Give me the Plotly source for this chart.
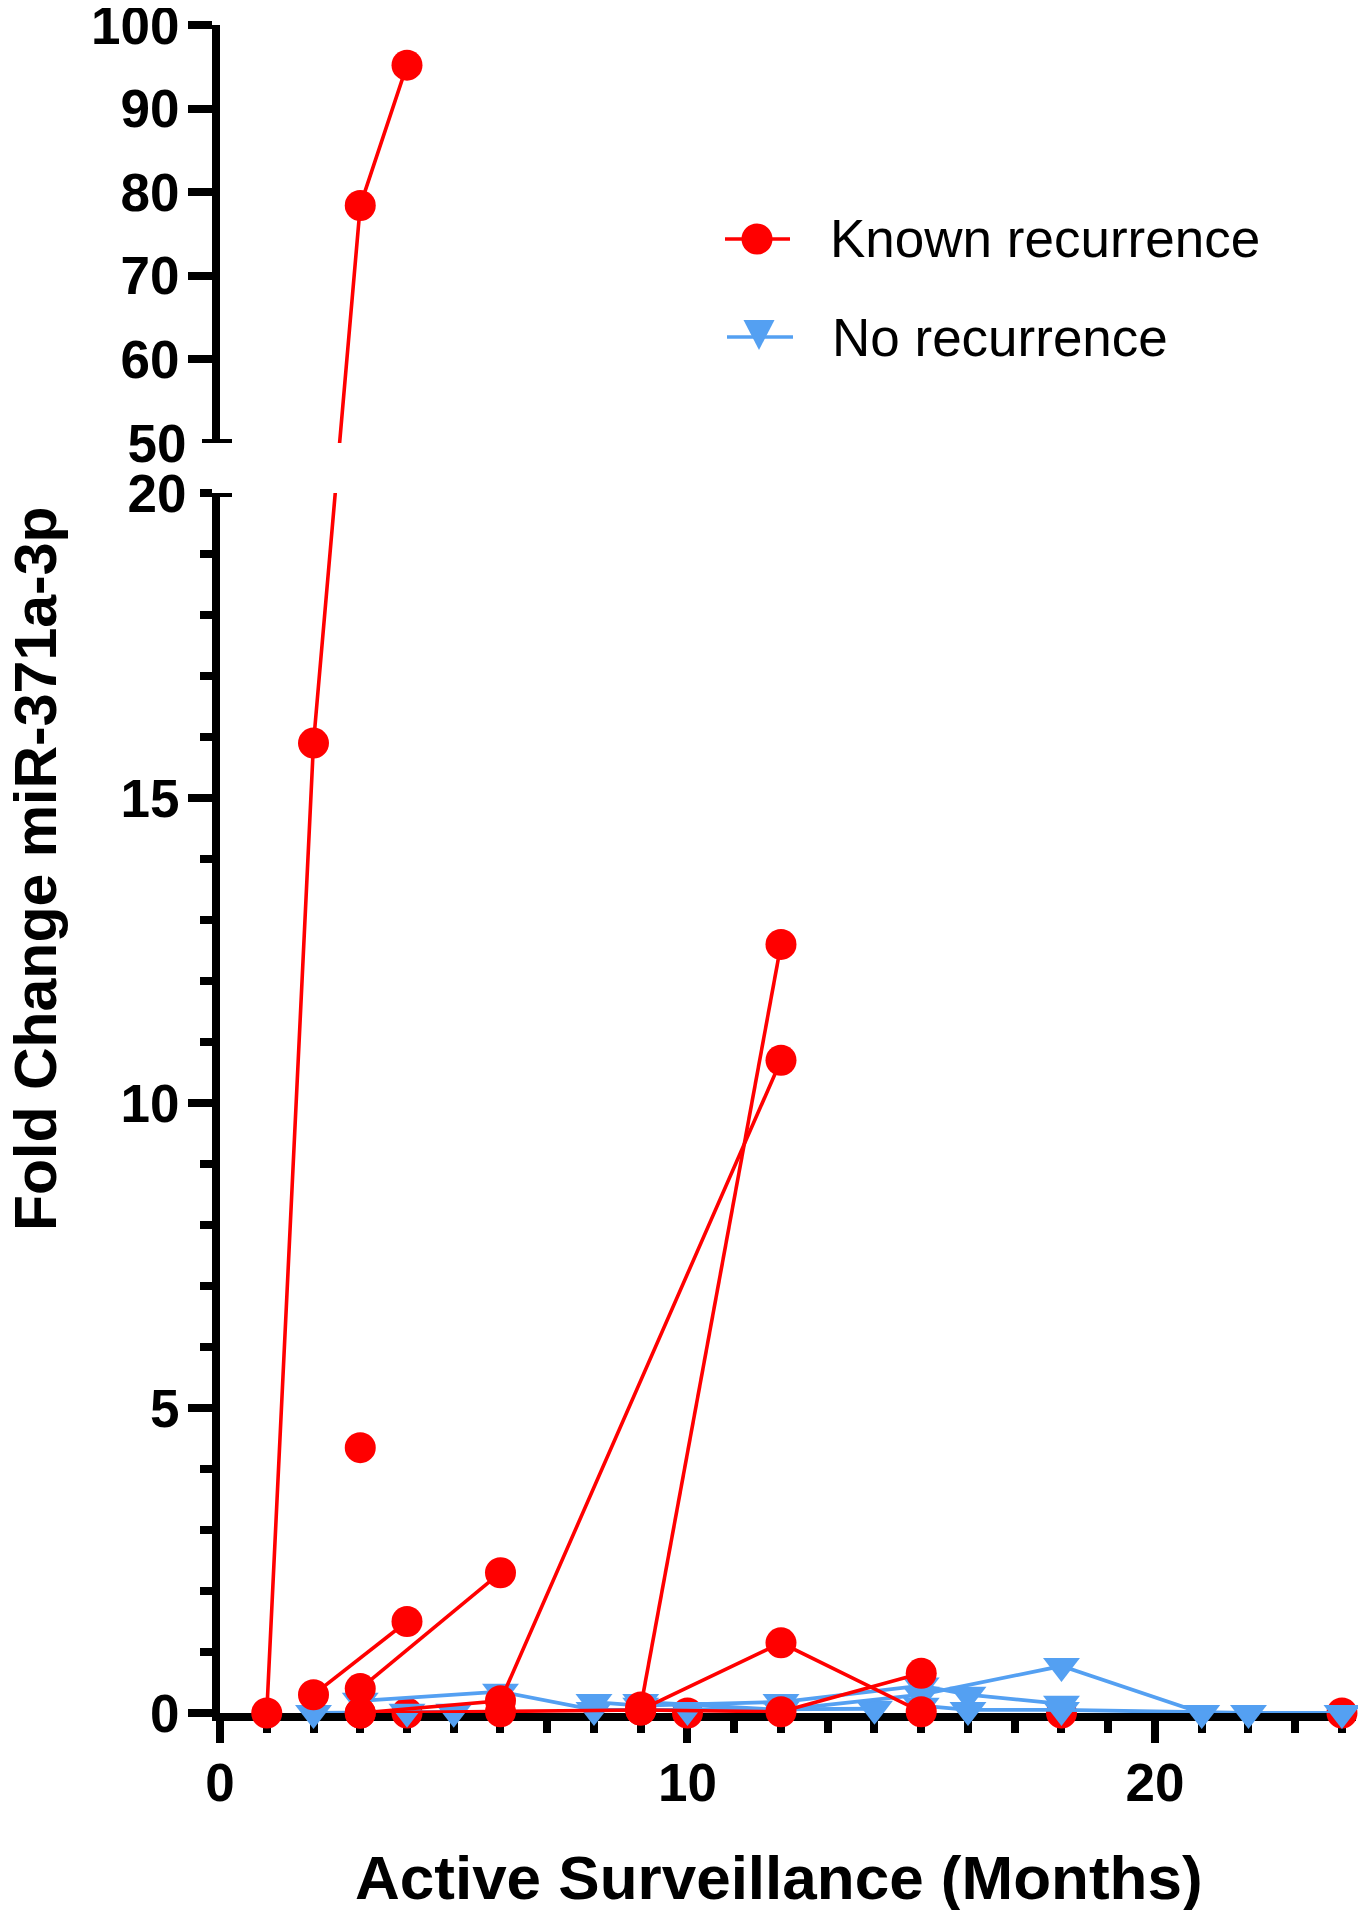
import plotly.graph_objects as go

# ---------------- data (months, fold change miR-371a-3p) ----------------
# Known recurrence patients
kr1_x = [1, 2, 3, 4];          kr1_y = [0.0, 15.9, 78.4, 95.2]
kr2_x = [2, 4];                kr2_y = [0.3, 1.5]
kr3_x = [3, 6];                kr3_y = [0.4, 2.3]
kr4_x = [3];                   kr4_y = [4.35]
kr5_x = [3, 6, 12];            kr5_y = [0.0, 0.2, 10.7]
kr6_x = [9, 12];               kr6_y = [0.1, 12.6]
kr7_x = [9, 12, 15];           kr7_y = [0.05, 1.15, 0.02]
kr8_x = [3, 6, 9, 12, 15];     kr8_y = [0.0, 0.02, 0.05, 0.02, 0.65]
kr_low_x = [4, 10, 18, 24];    kr_low_y = [0.0, 0.0, 0.0, 0.0]   # drawn under the blue series

# No recurrence patients
nr1_x = [2, 4, 5];                 nr1_y = [0.0, 0.02, 0.02]
nr2_x = [3, 6, 8, 10, 14];         nr2_y = [0.2, 0.35, 0.05, 0.05, 0.07]
nr3_x = [9, 12, 15, 18, 21];       nr3_y = [0.18, 0.05, 0.3, 0.77, 0.0]
nr4_x = [8, 9, 12, 15, 16, 18];    nr4_y = [0.18, 0.12, 0.18, 0.45, 0.3, 0.15]
nr5_x = [15, 16, 18, 22, 24];      nr5_y = [0.12, 0.05, 0.05, 0.0, 0.0]

known = [(kr1_x, kr1_y), (kr2_x, kr2_y), (kr3_x, kr3_y), (kr4_x, kr4_y),
         (kr5_x, kr5_y), (kr6_x, kr6_y), (kr7_x, kr7_y), (kr8_x, kr8_y)]
norec = [(nr1_x, nr1_y), (nr2_x, nr2_y), (nr3_x, nr3_y), (nr4_x, nr4_y), (nr5_x, nr5_y)]

x_ticks = [0, 10, 20]
y_low_ticks = [0, 5, 10, 15]
y_high_ticks = [60, 70, 80, 90, 100]
legend_labels = ["Known recurrence", "No recurrence"]

# ---------------- styling / geometry ----------------
RED = "#FF0000"
BLUE = "rgb(84,160,242)"
FONT = "Liberation Sans, Arial, sans-serif"
OFF = 8                                   # page body margin
W, H = 1358, 1902
ML, MR, MT, MB = 212, 10, 17, 197
PW, PH = W - ML - MR, H - MT - MB
X_RNG = (0, 24.3)
LOW_RNG, HIGH_RNG = (0, 20), (50, 100)


def px2paper_x(px):          # screen pixel -> paper
    return (px - OFF - ML) / PW


def px2paper_y(py):
    return (H - MB - (py - OFF)) / PH


d1 = px2paper_y(493)         # top of the low segment
d2 = px2paper_y(443)         # bottom of the high segment


def to_low(v):
    """express a value in low-segment axis units (for the line crossing the break)"""
    if v <= LOW_RNG[1]:
        return v
    paper = d2 + (v - HIGH_RNG[0]) / (HIGH_RNG[1] - HIGH_RNG[0]) * (1 - d2)
    return paper / d1 * LOW_RNG[1]


def to_high(v):
    if v >= HIGH_RNG[0]:
        return v
    paper = v / LOW_RNG[1] * d1
    return HIGH_RNG[0] + (paper - d2) / (1 - d2) * (HIGH_RNG[1] - HIGH_RNG[0])


fig = go.Figure()

CIRCLE = dict(symbol="circle", size=31, color=RED, line=dict(width=0))
TRI = dict(symbol="triangle-down", size=32, color=BLUE, line=dict(width=0))


def add_series(xs, ys, color, marker, lw):
    if max(ys) <= LOW_RNG[1]:
        fig.add_trace(go.Scatter(x=xs, y=ys, mode="lines+markers" if len(xs) > 1 else "markers",
                                 line=dict(color=color, width=lw), marker=marker,
                                 cliponaxis=False, showlegend=False, xaxis="x", yaxis="y"))
        return
    # low segment
    fig.add_trace(go.Scatter(x=xs, y=[to_low(v) for v in ys], mode="lines",
                             line=dict(color=color, width=lw), showlegend=False,
                             xaxis="x", yaxis="y"))
    lx = [a for a, b in zip(xs, ys) if b <= LOW_RNG[1]]
    ly = [b for b in ys if b <= LOW_RNG[1]]
    fig.add_trace(go.Scatter(x=lx, y=ly, mode="markers", marker=marker, cliponaxis=False,
                             showlegend=False, xaxis="x", yaxis="y"))
    # high segment
    fig.add_trace(go.Scatter(x=xs, y=[to_high(v) for v in ys], mode="lines",
                             line=dict(color=color, width=lw), showlegend=False,
                             xaxis="x2", yaxis="y2"))
    hx = [a for a, b in zip(xs, ys) if b >= HIGH_RNG[0]]
    hy = [b for b in ys if b >= HIGH_RNG[0]]
    fig.add_trace(go.Scatter(x=hx, y=hy, mode="markers", marker=marker, cliponaxis=False,
                             showlegend=False, xaxis="x2", yaxis="y2"))


fig.add_trace(go.Scatter(x=kr_low_x, y=kr_low_y, mode="markers", marker=CIRCLE,
                         cliponaxis=False, showlegend=False, xaxis="x", yaxis="y"))
for xs, ys in norec:
    add_series(xs, ys, BLUE, TRI, 3.8)
for xs, ys in known:
    add_series(xs, ys, RED, CIRCLE, 3.6)

# empty traces so the label-only overlay axes are rendered
fig.add_trace(go.Scatter(x=[None], y=[None], xaxis="x", yaxis="y3", showlegend=False, hoverinfo="skip"))
fig.add_trace(go.Scatter(x=[None], y=[None], xaxis="x2", yaxis="y4", showlegend=False, hoverinfo="skip"))

tickfont = dict(family=FONT, size=53, color="black", weight="bold")
axis_common = dict(showgrid=False, zeroline=False, showline=True, linewidth=8, linecolor="black",
                   ticks="outside", tickwidth=8, tickcolor="black", tickfont=tickfont,
                   layer="below traces", automargin=False)
label_only = dict(side="left", tickmode="array", ticks="outside", ticklen=24, tickwidth=8,
                  tickcolor="rgba(0,0,0,0)", tickfont=tickfont, showline=False, showgrid=False,
                  zeroline=False, ticklabelstandoff=-2, ticklabeloverflow="allow", automargin=False)

fig.update_layout(
    width=W, height=H, margin=dict(l=ML, r=MR, t=MT, b=MB, autoexpand=False),
    paper_bgcolor="white", plot_bgcolor="white", showlegend=False,
    xaxis=dict(domain=[0, 1], range=list(X_RNG), anchor="y", tickmode="array", tickvals=x_ticks,
               ticklen=22, ticklabelstandoff=-6, ticklabeloverflow="allow",
               minor=dict(tick0=0, dtick=1, ticks="outside", ticklen=12, tickwidth=8,
                          tickcolor="black"),
               **axis_common),
    xaxis2=dict(domain=[0, 1], range=list(X_RNG), anchor="y2", matches="x", visible=False,
                automargin=False),
    yaxis=dict(domain=[0, d1], range=list(LOW_RNG), anchor="x", tickmode="array",
               tickvals=y_low_ticks, ticklen=24, ticklabelstandoff=-2, ticklabeloverflow="allow",
               minor=dict(tick0=0, dtick=1, ticks="outside", ticklen=12, tickwidth=8,
                          tickcolor="black"),
               **axis_common),
    yaxis3=dict(overlaying="y", anchor="x", range=list(LOW_RNG), tickvals=[LOW_RNG[1]], **label_only),
    yaxis2=dict(domain=[d2, 1], range=list(HIGH_RNG), anchor="x2", tickmode="array",
                tickvals=y_high_ticks, ticklen=24, ticklabelstandoff=-2, ticklabeloverflow="allow",
                **axis_common),
    yaxis4=dict(overlaying="y2", anchor="x2", range=list(HIGH_RNG), tickvals=[HIGH_RNG[0]],
                **label_only),
)

# axis-break bars at the segment ends
for yref, yv in (("y", LOW_RNG[1]), ("y2", HIGH_RNG[0])):
    fig.add_shape(type="line", xref="paper", yref=yref, x0=px2paper_x(202), x1=px2paper_x(232),
                  y0=yv, y1=yv, line=dict(color="black", width=8))

# titles
fig.add_annotation(text="Fold Change miR-371a-3p", xref="paper", yref="paper",
                   x=px2paper_x(36), y=px2paper_y(869), xanchor="center", yanchor="middle",
                   textangle=-90, showarrow=False,
                   font=dict(family=FONT, size=59, color="black", weight="bold"))
fig.add_annotation(text="Active Surveillance (Months)", xref="paper", yref="paper",
                   x=px2paper_x(779), y=px2paper_y(1877), xanchor="center", yanchor="middle",
                   showarrow=False, font=dict(family=FONT, size=62, color="black", weight="bold"))

# legend (drawn manually so the symbols keep their plotted size)
leg_rows = [(239, RED, "circle", 725, 790, 757, 828), (337, BLUE, "tri", 727, 793, 759, 830)]
for (ry, col, sym, lx0, lx1, mx, tx), label in zip(leg_rows, legend_labels):
    yp = px2paper_y(ry)
    fig.add_shape(type="line", xref="paper", yref="paper", x0=px2paper_x(lx0), x1=px2paper_x(lx1),
                  y0=yp, y1=yp, line=dict(color=col, width=3.4))
    if sym == "circle":
        fig.add_shape(type="circle", xref="paper", yref="paper", xsizemode="pixel",
                      ysizemode="pixel", xanchor=px2paper_x(mx), yanchor=yp,
                      x0=-15.5, x1=15.5, y0=-15.5, y1=15.5, fillcolor=col, line=dict(width=0))
    else:
        fig.add_shape(type="path", xref="paper", yref="paper", xsizemode="pixel",
                      ysizemode="pixel", xanchor=px2paper_x(mx), yanchor=yp,
                      path="M -15.5 17 L 15.5 17 L 0 -13 Z", fillcolor=col, line=dict(width=0))
    fig.add_annotation(text=label, xref="paper", yref="paper", x=px2paper_x(tx), y=yp,
                       xanchor="left", yanchor="middle", showarrow=False,
                       font=dict(family=FONT, size=53, color="black"))

fig.write_html("out.html")
